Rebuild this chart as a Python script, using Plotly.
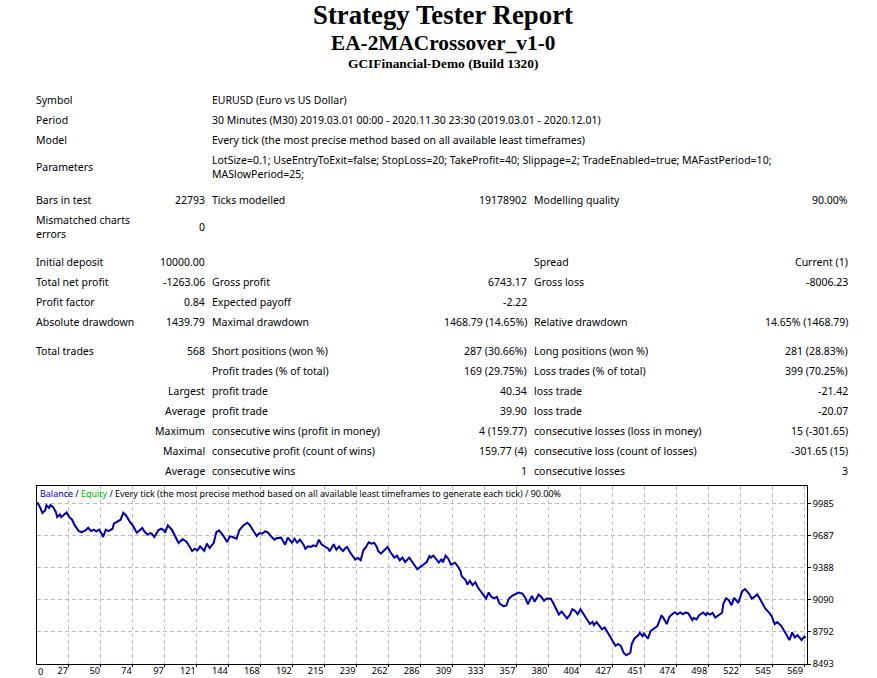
import plotly.graph_objects as go

# ---------- data ----------
trade = [0,2,4,6,7,9,10,12,14,15,17,18,20,22,24,26,28,31,33,36,38,40,42,44,46,48,49,51,53,56,57,59,62,64,66,69,71,74,76,78,80,82,84,85,87,90,92,94,95,97,100,102,105,108,111,113,115,117,119,121,124,126,128,131,133,135,138,141,143,145,148,150,153,156,158,161,163,165,167,169,171,173,176,178,181,184,186,189,191,193,195,
198,199,201,203,205,207,209,211,214,216,217,220,222,224,225,227,229,230,232,235,236,238,240,242,244,246,248,250,252,253,255,257,260,262,265,267,269,271,273,276,278,280,282,285,287,289,291,292,294,297,298,300,301,303,305,307,310,312,314,315,318,319,321,323,325,327,330,333,335,337,339,341,343,346,348,350,352,355,357,360,362,364,367,369,372,374,376,378,381,383,385,387,389,391,393,395,397,399,401,
403,405,407,410,412,413,415,417,419,421,423,425,427,429,431,433,435,437,440,441,443,446,447,449,450,453,455,457,460,463,464,467,469,471,473,475,477,479,481,483,486,487,489,491,494,496,497,499,501,503,506,508,509,511,513,515,517,520,523,525,528,530,532,534,536,538,540,543,545,547,549,552,554,556,558,560,562,564,567,569,570]
balance = [10000,9961,9899,9923,9970,9948,9973,9954,9908,9861,9886,9861,9883,9905,9861,9837,9784,9731,9722,9738,9762,9731,9744,9728,9744,9707,9676,9744,9731,9753,9800,9815,9837,9902,9877,9815,9784,9716,9738,9759,9722,9697,9713,9707,9676,9738,9753,9738,9716,9784,9744,9691,9620,9657,9629,9589,9546,9567,9552,9589,9546,9614,9574,9620,9722,9738,9691,9629,9682,9676,9660,9738,9784,9809,9784,9722,9685,9713,9707,9728,9722,9691,9651,9666,9670,9604,9670,9623,9660,9623,9651,
9598,9567,9589,9583,9598,9589,9651,9608,9583,9567,9543,9608,9558,9589,9570,9546,9577,9583,9536,9484,9465,9481,9459,9552,9583,9626,9614,9623,9583,9546,9521,9546,9583,9536,9484,9502,9459,9484,9443,9484,9453,9413,9375,9403,9428,9443,9499,9484,9502,9459,9437,9471,9440,9502,9474,9419,9437,9403,9360,9310,9273,9233,9267,9227,9255,9205,9149,9103,9159,9118,9106,9118,9056,9032,9038,9103,9125,9143,9159,9149,9112,9050,9128,9072,9140,9118,9081,9103,9100,9056,9010,8954,8982,8948,8917,8948,9004,8988,8957,
9004,8964,8914,8865,8886,8855,8883,8846,8815,8834,8793,8747,8700,8663,8679,8660,8598,8574,8598,8679,8731,8762,8784,8753,8778,8728,8800,8818,8846,8942,8933,8865,8933,8957,8976,8957,8973,8957,8973,8964,8902,8923,8908,8948,8973,8948,8970,8954,8970,8926,8957,8970,9056,9106,9087,9041,9109,9063,9171,9190,9149,9103,9118,9143,9103,9056,9010,8970,8933,8865,8883,8846,8803,8747,8716,8787,8741,8762,8716,8747,8737]

x_tick_labels = ["0","27","50","74","97","121","144","168","192","215","239","262","286","309","333","357","380","404","427","451","474","498","522","545","569"]
y_ticks = [9985,9687,9388,9090,8792,8493]

titles = ["Strategy Tester Report","EA-2MACrossover_v1-0","GCIFinancial-Demo (Build 1320)"]

# (row centre, text) per column
col_label = [(100,"Symbol"),(120,"Period"),(140,"Model"),(167,"Parameters"),(200,"Bars in test"),(227,"Mismatched charts<br>errors"),(262,"Initial deposit"),(282,"Total net profit"),(302,"Profit factor"),(322,"Absolute drawdown"),(351,"Total trades")]
col_label_r = [(391,"Largest"),(411,"Average"),(431,"Maximum"),(451,"Maximal"),(471,"Average")]
col_value = [(200,"22793"),(227,"0"),(262,"10000.00"),(282,"-1263.06"),(302,"0.84"),(322,"1439.79"),(351,"568")]
col2_label = [(100,"EURUSD (Euro vs US Dollar)"),(120,"30 Minutes (M30) 2019.03.01 00:00 - 2020.11.30 23:30 (2019.03.01 - 2020.12.01)"),(140,"Every tick (the most precise method based on all available least timeframes)"),
 (167,"LotSize=0.1; UseEntryToExit=false; StopLoss=20; TakeProfit=40; Slippage=2; TradeEnabled=true; MAFastPeriod=10;<br>MASlowPeriod=25;"),
 (200,"Ticks modelled"),(282,"Gross profit"),(302,"Expected payoff"),(322,"Maximal drawdown"),(351,"Short positions (won %)"),(371,"Profit trades (% of total)"),(391,"profit trade"),(411,"profit trade"),(431,"consecutive wins (profit in money)"),(451,"consecutive profit (count of wins)"),(471,"consecutive wins")]
col2_value = [(200,"19178902"),(282,"6743.17"),(302,"-2.22"),(322,"1468.79 (14.65%)"),(351,"287 (30.66%)"),(371,"169 (29.75%)"),(391,"40.34"),(411,"39.90"),(431,"4 (159.77)"),(451,"159.77 (4)"),(471,"1")]
col3_label = [(200,"Modelling quality"),(262,"Spread"),(282,"Gross loss"),(322,"Relative drawdown"),(351,"Long positions (won %)"),(371,"Loss trades (% of total)"),(391,"loss trade"),(411,"loss trade"),(431,"consecutive losses (loss in money)"),(451,"consecutive loss (count of losses)"),(471,"consecutive losses")]
col3_value = [(200,"90.00%"),(262,"Current (1)"),(282,"-8006.23"),(322,"14.65% (1468.79)"),(351,"281 (28.83%)"),(371,"399 (70.25%)"),(391,"-21.42"),(411,"-20.07"),(431,"15 (-301.65)"),(451,"-301.65 (15)"),(471,"3")]

# ---------- layout ----------
W, H = 877, 678
L, R, T, B = 37, 807, 486, 664
FONT = "Noto Sans"
FS = 10.5
FS_CHART = 9.2

def px(x): return (x - L) / (R - L)
def py(y): return (B - y) / (B - T)

anns = []
def add(x, y, text, anchor="left", size=FS, family=FONT, color="#000000"):
    anns.append(dict(x=px(x), y=py(y), xref="paper", yref="paper", text=text, showarrow=False,
                     xanchor=anchor, yanchor="middle", align=anchor, borderpad=0,
                     font=dict(family=family, size=size, color=color)))

for (yy, t), s in zip(zip([15, 43, 63], titles), [26.8, 21.3, 13.4]):
    add(443, yy, "<b>%s</b>" % t, "center", s, "Liberation Serif")

for rows, x, a in [(col_label, 35, "left"), (col_label_r, 206, "right"), (col_value, 206, "right"),
                   (col2_label, 211, "left"), (col2_value, 528, "right"),
                   (col3_label, 533, "left"), (col3_value, 849, "right")]:
    for yy, t in rows:
        add(x, yy, t, a)

add(39, 493, '<span style="color:#0000c8">Balance</span> / <span style="color:#00b400">Equity</span> / '
    'Every tick (the most precise method based on all available least timeframes to generate each tick) / 90.00%', size=8.95)
add(37, 671, x_tick_labels[0], size=FS_CHART)

tick_step = 23.7
fig = go.Figure(go.Scatter(x=trade, y=balance, mode="lines", line=dict(color="#0000aa", width=2), name="Balance"))
axis = dict(showline=True, linecolor="#000000", linewidth=1, mirror=True, ticks="outside", ticklen=3,
            tickcolor="#000000", showgrid=True, gridcolor="#bdbdbd", griddash="4px,3px", gridwidth=1,
            zeroline=False, automargin=False, tickfont=dict(family=FONT, size=FS_CHART, color="#000000"))
fig.update_layout(
    width=W, height=H, autosize=False, showlegend=False, paper_bgcolor="#ffffff", plot_bgcolor="#ffffff",
    margin=dict(l=L, r=W - R, t=T, b=H - B, pad=0),
    xaxis=dict(axis, range=[0, 571], tickmode="array", ticklen=2,
               tickvals=[i * tick_step for i in range(1, len(x_tick_labels))], ticktext=x_tick_labels[1:],
               ticklabelposition="outside left", ticklabelstandoff=-2),
    yaxis=dict(axis, side="right", range=[8493, 10151], tickmode="array", tickvals=y_ticks,
               ticktext=[str(v) for v in y_ticks]),
    annotations=anns,
)
fig.write_html("out.html", config=dict(displayModeBar=False),
               post_script="document.body.style.margin='0';document.body.style.overflow='hidden';")
